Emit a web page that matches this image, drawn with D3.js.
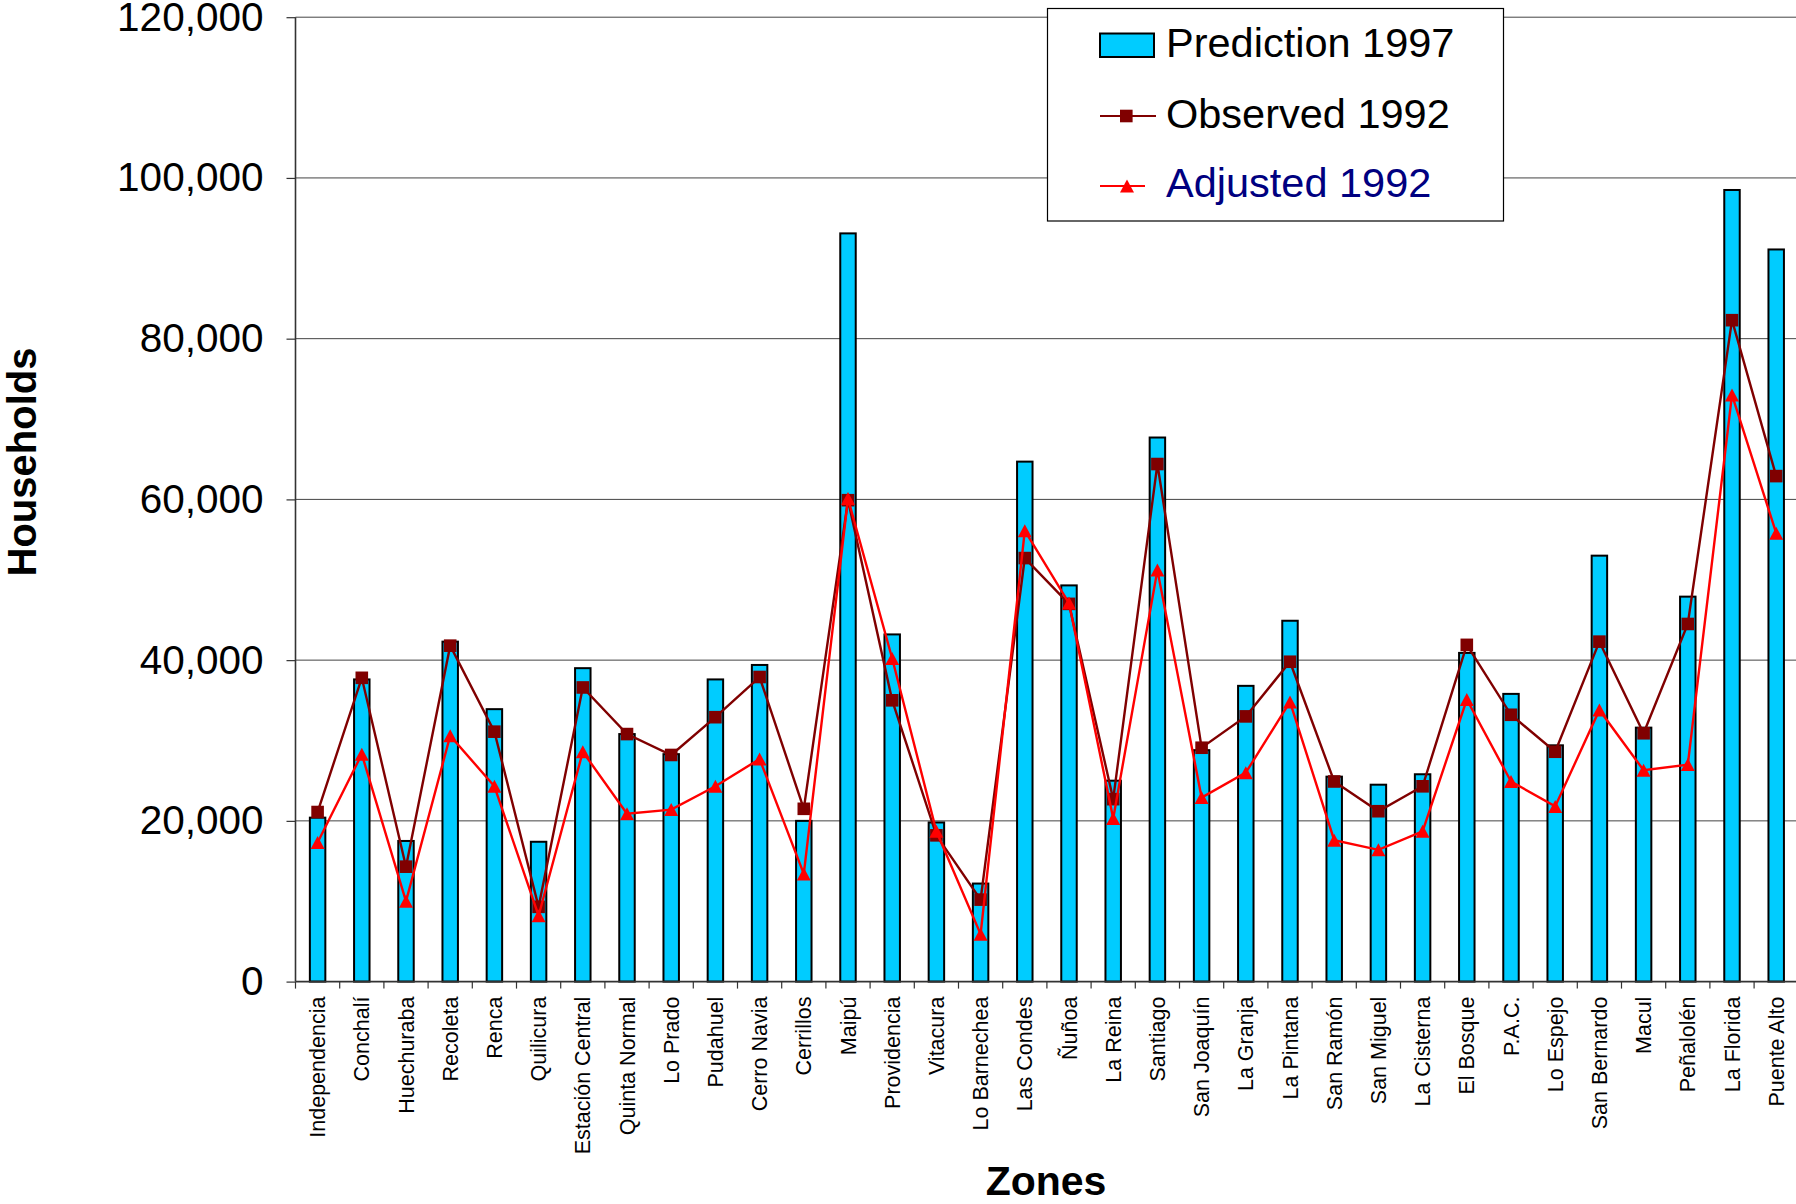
<!DOCTYPE html>
<html>
<head>
<meta charset="utf-8">
<script src="https://cdn.jsdelivr.net/npm/d3@7"></script>
<style>
  body { margin: 0; background: #fff; }
  svg { display: block; font-family: 'Liberation Sans', Arial, sans-serif; }
  .axis-y .domain { display: none; }
</style>
</head>
<body>
<svg id="chart" width="1796" height="1204"></svg>
<script>
const zones = ['Independencia', 'Conchalí', 'Huechuraba', 'Recoleta', 'Renca', 'Quilicura',
  'Estación Central', 'Quinta Normal', 'Lo Prado', 'Pudahuel', 'Cerro Navia', 'Cerrillos',
  'Maipú', 'Providencia', 'Vitacura', 'Lo Barnechea', 'Las Condes', 'Ñuñoa', 'La Reina',
  'Santiago', 'San Joaquín', 'La Granja', 'La Pintana', 'San Ramón', 'San Miguel',
  'La Cisterna', 'El Bosque', 'P.A.C.', 'Lo Espejo', 'San Bernardo', 'Macul', 'Peñalolén',
  'La Florida', 'Puente Alto'];

const prediction1997 = [20400, 37600, 17500, 42300, 33900, 17400, 39000, 30800, 28300, 37600,
  39400, 20000, 93100, 43200, 19800, 12200, 64700, 49300, 25000, 67700, 28800, 36800, 44900,
  25500, 24500, 25800, 40900, 35800, 29400, 53000, 31600, 47900, 98500, 91100];

const observed1992 = [21100, 37800, 14300, 41800, 31100, 9300, 36600, 30800, 28200, 32900,
  37900, 21500, 59900, 35000, 18200, 10200, 52700, 47000, 22700, 64400, 29100, 33000, 39800,
  24900, 21200, 24300, 41900, 33200, 28600, 42300, 30900, 44500, 82300, 62900];

const adjusted1992 = [17300, 28300, 10000, 30600, 24300, 8200, 28600, 20900, 21400, 24300,
  27700, 13400, 60100, 40200, 18700, 5900, 56100, 47100, 20300, 51200, 22900, 26000, 34800,
  17600, 16400, 18700, 35100, 24900, 21800, 33800, 26300, 27000, 73000, 55800];

const yTicks = [0, 20000, 40000, 60000, 80000, 100000, 120000];

const legendItems = ['Prediction 1997', 'Observed 1992', 'Adjusted 1992'];

const svg = d3.select('#chart');
const W = 1796;
const plot = { left: 295.5, right: 1798.3, top: 17.2, bottom: 981.6 };

const x = d3.scaleBand()
  .domain(zones)
  .range([plot.left, plot.right])
  .paddingInner(0.65)
  .paddingOuter(0.325);

const y = d3.scaleLinear().domain([0, 120000]).range([plot.bottom, plot.top]);

const cx = d => x(d) + x.bandwidth() / 2;

// gridlines
svg.append('g')
  .selectAll('line')
  .data(yTicks.filter(t => t > 0))
  .join('line')
  .attr('x1', plot.left).attr('x2', W)
  .attr('y1', d => y(d)).attr('y2', d => y(d))
  .attr('stroke', '#444').attr('stroke-width', 1);

// y axis
const axisY = d3.axisLeft(y)
  .tickValues(yTicks)
  .tickFormat(d3.format(','))
  .tickSize(9)
  .tickPadding(23);

const gy = svg.append('g')
  .attr('class', 'axis-y')
  .attr('transform', `translate(${plot.left},0)`)
  .call(axisY);
gy.selectAll('.tick line').attr('stroke', '#333').attr('stroke-width', 1.2);
gy.selectAll('.tick text')
  .attr('fill', '#000')
  .style('font-size', '40.5px')
  .style('font-family', "'Liberation Sans', Arial, sans-serif");

svg.append('line')
  .attr('x1', plot.left).attr('x2', plot.left)
  .attr('y1', plot.top).attr('y2', plot.bottom)
  .attr('stroke', '#333').attr('stroke-width', 1.6);

// bars
svg.append('g')
  .selectAll('rect')
  .data(zones)
  .join('rect')
  .attr('x', d => x(d))
  .attr('y', (d, i) => y(prediction1997[i]))
  .attr('width', x.bandwidth())
  .attr('height', (d, i) => plot.bottom - y(prediction1997[i]))
  .attr('fill', '#00CCFF')
  .attr('stroke', '#000')
  .attr('stroke-width', 2);

// x axis baseline + ticks at band edges
svg.append('line')
  .attr('x1', plot.left).attr('x2', W)
  .attr('y1', plot.bottom).attr('y2', plot.bottom)
  .attr('stroke', '#333').attr('stroke-width', 1.6);

svg.append('g')
  .selectAll('line')
  .data(zones)
  .join('line')
  .attr('x1', d => cx(d) - x.step() / 2)
  .attr('x2', d => cx(d) - x.step() / 2)
  .attr('y1', plot.bottom).attr('y2', plot.bottom + 7)
  .attr('stroke', '#333').attr('stroke-width', 1.2);

svg.append('g')
  .selectAll('text')
  .data(zones)
  .join('text')
  .attr('transform', d => `translate(${cx(d)},${plot.bottom + 15}) rotate(-90)`)
  .attr('dy', '0.35em')
  .attr('text-anchor', 'end')
  .style('font-size', '21.5px')
  .attr('fill', '#000')
  .text(d => d);

// lines
const line = vals => d3.line()
  .x((d, i) => cx(zones[i]))
  .y(d => y(d))(vals);

svg.append('path')
  .attr('d', line(observed1992))
  .attr('fill', 'none')
  .attr('stroke', '#800000')
  .attr('stroke-width', 2.4);

svg.append('g')
  .selectAll('rect')
  .data(observed1992)
  .join('rect')
  .attr('x', (d, i) => cx(zones[i]) - 6.3)
  .attr('y', d => y(d) - 6.3)
  .attr('width', 12.6).attr('height', 12.6)
  .attr('fill', '#800000');

const tri = (w, h) => `M0,${-h / 2}L${w / 2},${h / 2}L${-w / 2},${h / 2}Z`;

svg.append('path')
  .attr('d', line(adjusted1992))
  .attr('fill', 'none')
  .attr('stroke', '#FF0000')
  .attr('stroke-width', 2.4);

svg.append('g')
  .selectAll('path')
  .data(adjusted1992)
  .join('path')
  .attr('transform', (d, i) => `translate(${cx(zones[i])},${y(d)})`)
  .attr('d', tri(14, 13))
  .attr('fill', '#FF0000');

// legend
const lg = svg.append('g');
lg.append('rect')
  .attr('x', 1047.5).attr('y', 8.5)
  .attr('width', 456).attr('height', 212.5)
  .attr('fill', '#fff').attr('stroke', '#000').attr('stroke-width', 1.2);

const rowY = [45, 116, 186];
const textBase = [57, 128, 197];
const textColors = ['#000', '#000', '#000080'];

lg.append('rect')
  .attr('x', 1100).attr('y', 33.5)
  .attr('width', 54).attr('height', 23.5)
  .attr('fill', '#00CCFF').attr('stroke', '#000').attr('stroke-width', 2);

lg.append('line')
  .attr('x1', 1100).attr('x2', 1156)
  .attr('y1', rowY[1]).attr('y2', rowY[1])
  .attr('stroke', '#800000').attr('stroke-width', 2);
lg.append('rect')
  .attr('x', 1120).attr('y', rowY[1] - 6.3)
  .attr('width', 12.6).attr('height', 12.6)
  .attr('fill', '#800000');

lg.append('line')
  .attr('x1', 1100).attr('x2', 1145)
  .attr('y1', rowY[2]).attr('y2', rowY[2])
  .attr('stroke', '#FF0000').attr('stroke-width', 2);
lg.append('path')
  .attr('transform', `translate(1127,${rowY[2]})`)
  .attr('d', tri(14, 13))
  .attr('fill', '#FF0000');

lg.selectAll('text')
  .data(legendItems)
  .join('text')
  .attr('x', 1166)
  .attr('y', (d, i) => textBase[i])
  .attr('fill', (d, i) => textColors[i])
  .style('font-size', '41.5px')
  .text(d => d);

// axis titles
svg.append('text')
  .attr('transform', 'translate(36,462) rotate(-90)')
  .attr('text-anchor', 'middle')
  .style('font-size', '40px')
  .style('font-weight', 'bold')
  .text('Households');

svg.append('text')
  .attr('x', 1046).attr('y', 1195)
  .attr('text-anchor', 'middle')
  .style('font-size', '41px')
  .style('font-weight', 'bold')
  .text('Zones');
</script>
</body>
</html>
